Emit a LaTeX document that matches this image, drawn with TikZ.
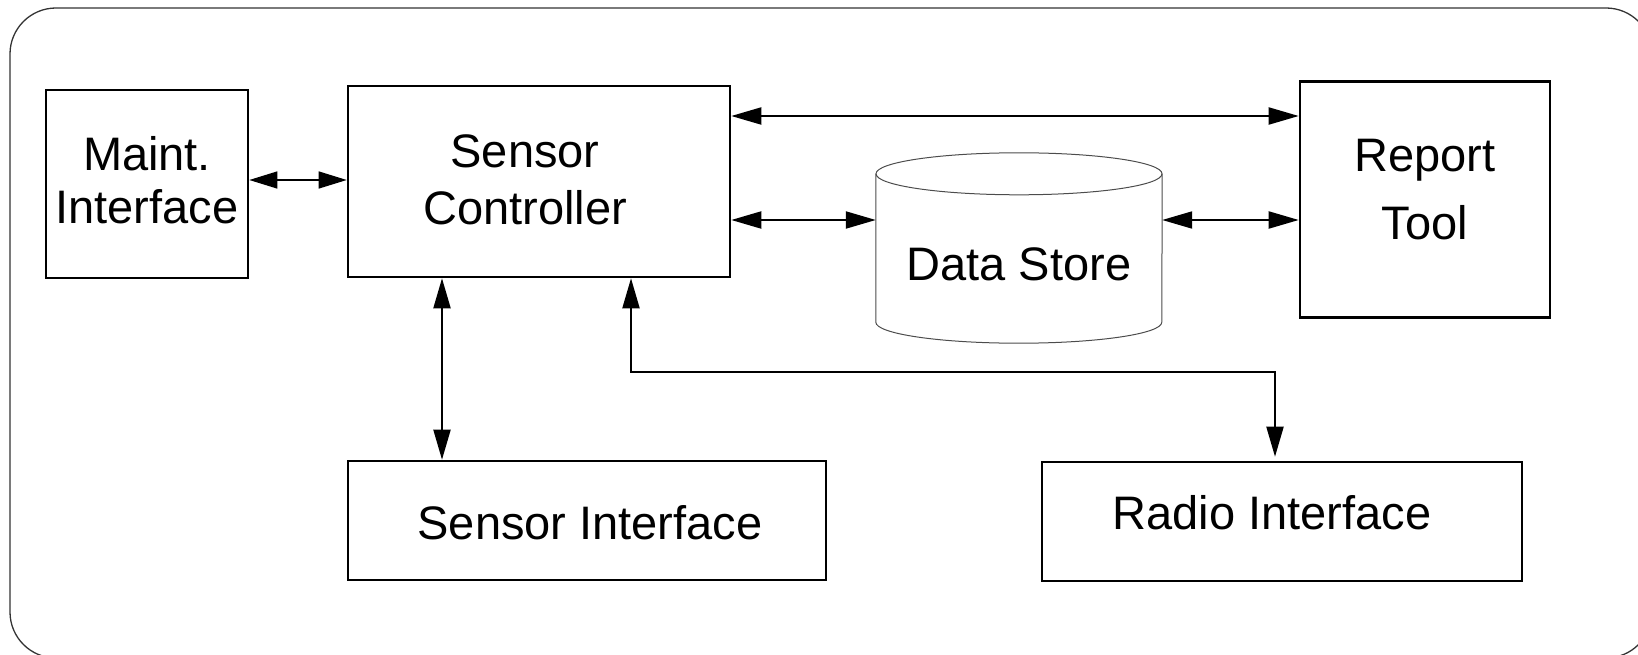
\documentclass[tikz,border=0pt]{standalone}
\usepackage{fontspec}
\setmainfont{Liberation Sans}
\usetikzlibrary{arrows.meta}

\begin{document}
\begin{tikzpicture}[x=1pt,y=-1pt,
  block/.style={draw, line width=2.6pt, rectangle, inner sep=0pt},
  lbl/.style={anchor=base, align=center, inner sep=0pt,
              font=\fontsize{47}{54}\selectfont},
  arr/.style={line width=2pt,
              {Triangle[length=30pt,width=17pt]}-{Triangle[length=30pt,width=17pt]}},
  thinarr/.style={line width=1.3pt,
              {Triangle[length=28pt,width=17pt]}-{Triangle[length=28pt,width=17pt]}},
  cyl/.style={draw=black!70, line width=1pt},
  frame/.style={draw=black!80, line width=1.3pt, rounded corners=46pt}]

\useasboundingbox (0,0) rectangle (1638,655);
\clip (0,0) rectangle (1638,655);

% outer rounded frame (runs past the right and bottom edges)
\draw[frame] (10,8) rectangle (1652,658);

% blocks
\node[block, minimum width=202pt, minimum height=188pt] (mi) at (147,184) {};
\node[block, minimum width=382pt, minimum height=191pt] (sc) at (539,181.5) {};
\node[block, minimum width=250pt, minimum height=236pt] (rt) at (1425,199.5) {};
\node[block, minimum width=478pt, minimum height=119pt] (si) at (587,520.5) {};
\node[block, minimum width=480pt, minimum height=119pt] (ri) at (1282,521.5) {};

% data store cylinder: an invisible node carries the anchors
\node[minimum width=286pt, minimum height=190pt, inner sep=0pt] (ds) at (1019,248) {};
\draw[cyl] ([yshift=-21pt]ds.north west) -- ([yshift=21pt]ds.south west)
  arc[start angle=180, end angle=360, x radius=143pt, y radius=21pt]
  -- ([yshift=-21pt]ds.north east);
\draw[cyl] ([yshift=-21pt]ds.north) ellipse[x radius=143pt, y radius=21pt];

% labels (a multi-line label sits on the baseline of its last line)
\node[lbl] (mi-l) at (147,224) {Maint.\\Interface};
\node[lbl, font=\fontsize{47}{57}\selectfont] (sc-l) at (525,225) {Sensor\\Controller};
\node[lbl, font=\fontsize{47}{68}\selectfont] (rt-l) at (1425,240) {Report\\Tool};
\node[lbl] (ds-l) at (1019,280) {Data Store};
\node[lbl] (si-l) at (590,539) {Sensor Interface};
\node[lbl] (ri-l) at (1272,529) {Radio Interface};

% connectors
\draw[thinarr] (mi.east |- 0,180) -- (sc.west |- 0,180);
\draw[arr] (sc.east |- 0,116) -- (rt.west |- 0,116);
\draw[arr] (sc.east |- 0,220) -- (ds.west |- 0,220);
\draw[arr] (ds.east |- 0,220) -- (rt.west |- 0,220);
\draw[arr] (sc.south -| 442,0) -- (si.north -| 442,0);
\coordinate (bend) at (1275,372);
\draw[arr, shorten >=4pt] (sc.south -| 631,0) |- (bend) -- (ri.north -| bend);

\end{tikzpicture}
\end{document}
